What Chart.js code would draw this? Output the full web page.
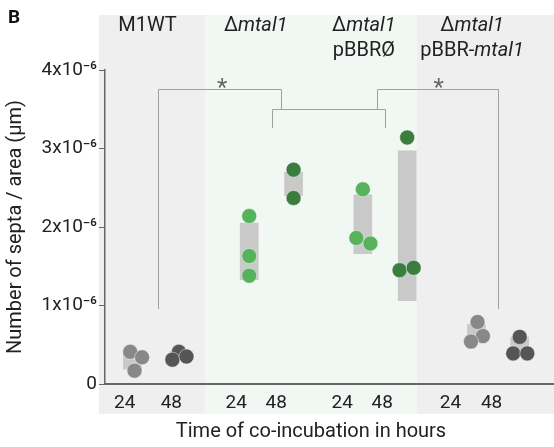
<!DOCTYPE html>
<html>
<head>
<meta charset="utf-8">
<script src="https://cdn.jsdelivr.net/npm/chart.js@4.4.1/dist/chart.umd.min.js"></script>
<style>
  html, body { margin: 0; padding: 0; background: #fff; overflow: hidden; }
  canvas { display: block; }
</style>
</head>
<body>
<canvas id="septaChart" width="554" height="447"></canvas>
<script>
// values are in units of 1x10^-6 septa / um
const timeLabels = ['24', '48', '24', '48', '24', '48', '24', '48'];
const tickPos = [0.79, 1.22, 1.82, 2.19, 2.80, 3.17, 3.80, 4.18];

const groupPos = [1, 2, 3, 4];
const groupLine1 = ['M1WT', 'Δmtal1', 'Δmtal1', 'Δmtal1'];
const groupLine2 = ['', '', 'pBBRØ', 'pBBR-mtal1'];

// individual replicates (x = jittered position, y = value)
const wt24X = [0.84, 0.95, 0.88];
const wt24Y = [0.41, 0.34, 0.17];
const wt48X = [1.29, 1.23, 1.36];
const wt48Y = [0.41, 0.31, 0.35];
const ko24X = [1.94, 1.94, 1.94];
const ko24Y = [2.14, 1.63, 1.38];
const ko48X = [2.35, 2.35];
const ko48Y = [2.73, 2.37];
const empty24X = [2.99, 2.93, 3.06];
const empty24Y = [2.48, 1.86, 1.79];
const empty48X = [3.40, 3.33, 3.46];
const empty48Y = [3.14, 1.45, 1.48];
const comp24X = [4.05, 4.10, 3.99];
const comp24Y = [0.79, 0.61, 0.54];
const comp48X = [4.44, 4.38, 4.51];
const comp48Y = [0.60, 0.39, 0.39];

// grey range bars behind the points
const barX = [0.86, 1.29, 1.94, 2.35, 2.99, 3.40, 4.04, 4.44];
const barLow = [0.19, 0.31, 1.33, 2.40, 1.66, 1.06, 0.55, 0.40];
const barHigh = [0.42, 0.41, 2.05, 2.70, 2.41, 2.97, 0.76, 0.60];

// shaded strain bands
const bandFrom = [0.55, 1.53, 3.49];
const bandTo = [1.53, 3.49, 5.2];
const bandColor = ['#efefef', '#f1f7f3', '#efefef'];

// significance brackets
const bracketX1 = [1.10, 2.15, 3.12];
const bracketX2 = [2.23, 3.195, 4.24];
const bracketY = [3.76, 3.50, 3.76];
const bracketLeftEnd = [0.955, 3.26, 3.50];
const bracketRightEnd = [3.50, 3.26, 0.955];
const starX = [1.69, 3.69];

const xTitle = 'Time of co-incubation in hours';
const FONT = 'Roboto, "Liberation Sans", sans-serif';

const toPoints = (xs, ys) => xs.map((x, i) => ({ x: x, y: ys[i] }));

const lightGreen = '#57b25c';
const darkGreen = '#3b7d3f';
const lightGrey = '#888888';
const darkGrey = '#555555';

function drawMixed(ctx, text, cx, y, size) {
    // "mtal1" is written in italics
    const parts = text.split(/(mtal1)/).filter(p => p.length);
    const fonts = parts.map(p => (p === 'mtal1' ? 'italic ' : '') + size + 'px ' + FONT);
    let total = 0;
    const widths = parts.map((p, i) => {
        ctx.font = fonts[i];
        const w = ctx.measureText(p).width;
        total += w;
        return w;
    });
    let x = cx - total / 2;
    parts.forEach((p, i) => {
        ctx.font = fonts[i];
        ctx.fillText(p, x, y);
        x += widths[i];
    });
}

const decorPlugin = {
    id: 'decor',
    beforeDraw(chart) {
        const ctx = chart.ctx;
        const xs = chart.scales.x;
        const area = chart.chartArea;
        ctx.save();
        bandFrom.forEach((f, i) => {
            const x1 = xs.getPixelForValue(f);
            const x2 = xs.getPixelForValue(bandTo[i]);
            ctx.fillStyle = bandColor[i];
            ctx.fillRect(x1, 15, x2 - x1, area.bottom + 30 - 15);
        });
        ctx.restore();
    },
    beforeDatasetsDraw(chart) {
        const ctx = chart.ctx;
        const xs = chart.scales.x;
        const ys = chart.scales.y;
        ctx.save();
        ctx.strokeStyle = '#a0a0a0';
        ctx.lineWidth = 1;
        bracketX1.forEach((b, i) => {
            const x1 = Math.round(xs.getPixelForValue(b)) + 0.5;
            const x2 = Math.round(xs.getPixelForValue(bracketX2[i])) + 0.5;
            const y = Math.round(ys.getPixelForValue(bracketY[i])) + 0.5;
            ctx.beginPath();
            ctx.moveTo(x1, ys.getPixelForValue(bracketLeftEnd[i]));
            ctx.lineTo(x1, y);
            ctx.lineTo(x2, y);
            ctx.lineTo(x2, ys.getPixelForValue(bracketRightEnd[i]));
            ctx.stroke();
        });
        ctx.fillStyle = '#666666';
        ctx.font = '24px ' + FONT;
        ctx.textAlign = 'center';
        ctx.textBaseline = 'alphabetic';
        starX.forEach(s => {
            ctx.fillText('*', xs.getPixelForValue(s), ys.getPixelForValue(3.76) + 6);
        });
        ctx.restore();
    },
    afterDraw(chart) {
        const ctx = chart.ctx;
        const xs = chart.scales.x;
        ctx.save();
        ctx.fillStyle = '#222222';
        ctx.textBaseline = 'middle';
        ctx.textAlign = 'left';
        groupPos.forEach((g, i) => {
            const cx = xs.getPixelForValue(g);
            drawMixed(ctx, groupLine1[i], cx, 26, 20);
            if (groupLine2[i]) drawMixed(ctx, groupLine2[i], cx, 51, 20);
        });
        ctx.textAlign = 'center';
        ctx.font = '20px ' + FONT;
        ctx.fillText(xTitle, 311, 432);
        ctx.textAlign = 'left';
        ctx.font = 'bold 19px ' + FONT;
        ctx.fillStyle = '#111111';
        ctx.fillText('B', 8, 18);
        ctx.restore();
    }
};

const pointStyle = (color) => ({
    type: 'scatter',
    order: 1,
    backgroundColor: color,
    borderColor: 'rgba(255,255,255,0.45)',
    borderWidth: 1,
    pointRadius: 7.5,
    pointHoverRadius: 7.5
});

new Chart(document.getElementById('septaChart'), {
    type: 'bar',
    data: {
        datasets: [
            {
                type: 'bar',
                order: 10,
                data: barX.map((x, i) => ({ x: x, y: [barLow[i], barHigh[i]] })),
                backgroundColor: '#c9c9c9',
                borderWidth: 0,
                barThickness: 18
            },
            Object.assign(pointStyle(lightGrey), { data: toPoints(wt24X, wt24Y).concat(toPoints(comp24X, comp24Y)) }),
            Object.assign(pointStyle(darkGrey), { data: toPoints(wt48X, wt48Y).concat(toPoints(comp48X, comp48Y)) }),
            Object.assign(pointStyle(lightGreen), { data: toPoints(ko24X, ko24Y).concat(toPoints(empty24X, empty24Y)) }),
            Object.assign(pointStyle(darkGreen), { data: toPoints(ko48X, ko48Y).concat(toPoints(empty48X, empty48Y)) })
        ]
    },
    options: {
        responsive: false,
        animation: false,
        layout: { autoPadding: false, padding: { top: 70, left: 0, right: 0, bottom: 0 } },
        plugins: {
            legend: { display: false },
            tooltip: { enabled: false }
        },
        scales: {
            x: {
                type: 'linear',
                min: 0.607,
                max: 4.757,
                offset: false,
                grid: { display: false, drawTicks: false, offset: false },
                border: { color: '#666666', width: 2 },
                afterBuildTicks: (scale) => {
                    scale.ticks = tickPos.map(v => ({ value: v }));
                },
                afterFit: (scale) => {
                    scale.height = 63;
                    scale.paddingLeft = 0;
                    scale.paddingRight = 0;
                },
                ticks: {
                    autoSkip: false,
                    maxRotation: 0,
                    padding: 8,
                    color: '#222222',
                    font: { family: FONT, size: 19 },
                    callback: (v, i) => timeLabels[i]
                }
            },
            y: {
                min: 0,
                max: 4,
                grid: { drawOnChartArea: false, tickLength: 6, color: '#666666' },
                border: { color: '#666666', width: 1.5 },
                afterFit: (scale) => {
                    scale.width = 105;
                    scale.paddingTop = 0;
                    scale.paddingBottom = 0;
                },
                ticks: {
                    stepSize: 1,
                    padding: 2,
                    color: '#222222',
                    font: { family: FONT, size: 19 },
                    callback: (v) => v === 0 ? '0' : v + 'x10⁻⁶'
                },
                title: {
                    display: true,
                    text: 'Number of septa / area (µm)',
                    color: '#222222',
                    font: { family: FONT, size: 20 },
                    padding: { top: 4, bottom: 0 }
                }
            }
        }
    },
    plugins: [decorPlugin]
});
</script>
</body>
</html>
